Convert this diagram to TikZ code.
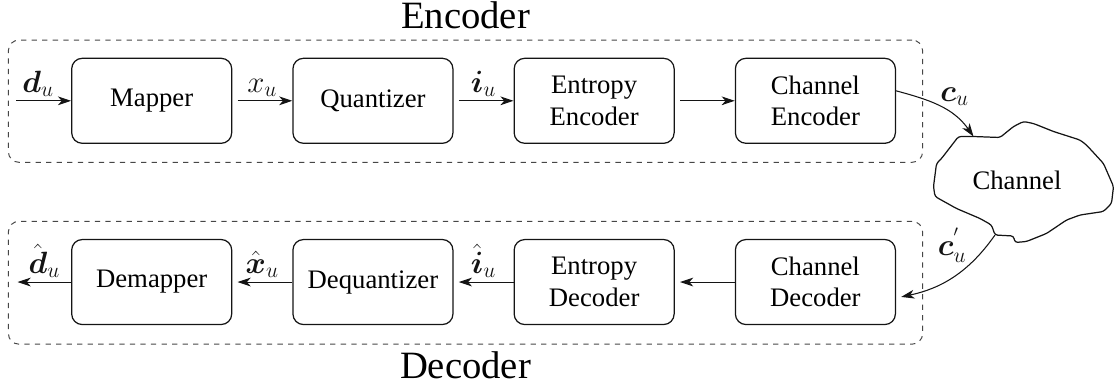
\RequirePackage{fix-cm}
\documentclass[tikz,border=0pt]{standalone}
\usepackage{amsmath}
\usepackage{fontspec}
\setmainfont{Liberation Serif}
\usetikzlibrary{arrows.meta, positioning, calc, fit}
\definecolor{mydark}{RGB}{20,20,20}
\definecolor{mygray}{RGB}{70,70,70}
\tikzset{
  block/.style={rectangle, draw=mydark, text width=2.8cm, align=center,
    minimum width=3.2cm, minimum height=1.7cm, rounded corners=6pt,
    font=\fontsize{15.2}{18}\selectfont, line width=0.7pt},
  frame/.style={rectangle, draw=mygray, dashed, rounded corners=6pt,
    inner sep=0pt, line width=0.55pt},
  framelabel/.style={font=\fontsize{22}{26}\selectfont, inner sep=0pt},
  sig/.style={font=\fontsize{17.5}{20}\selectfont, inner sep=2pt},
  arrow/.style={-{Stealth[length=7.5pt, width=5pt, inset=2.2pt]}, line width=0.6pt, color=mydark},
  cloudline/.style={draw=mydark, line width=0.7pt, rounded corners=1.5pt}
}

\begin{document}
\begin{tikzpicture}
  \useasboundingbox (0,0) rectangle (22.34,-7.70);
  % encoder chain
  \node[block] (map) at (3.034,-2.016) {Mapper};
  \node[block, right=1.2cm of map] (quant) {Quantizer};
  \node[block, right=1.2cm of quant] (entenc) {Entropy\\Encoder};
  \node[block, right=1.2cm of entenc] (chenc) {Channel\\Encoder};
  % decoder chain
  \node[block, below=1.9cm of map] (demap) {Demapper};
  \node[block, right=1.2cm of demap] (dequant) {Dequantizer};
  \node[block, right=1.2cm of dequant] (entdec) {Entropy\\Decoder};
  \node[block, right=1.2cm of entdec] (chdec) {Channel\\Decoder};

  % dashed frames
  \coordinate (enc-nw) at ($(map.north west)+(-1.254,0.352)$);
  \coordinate (enc-se) at ($(chenc.south east)+(0.532,-0.368)$);
  \node[frame, fit=(enc-nw)(enc-se)] (encframe) {};
  \node[framelabel, above=5.8pt of encframe] (enclabel) {Encoder};
  \coordinate (dec-nw) at ($(demap.north west)+(-1.254,0.352)$);
  \coordinate (dec-se) at ($(chdec.south east)+(0.532,-0.38)$);
  \node[frame, fit=(dec-nw)(dec-se)] (decframe) {};
  \node[framelabel, below=3.6pt of decframe] (declabel) {Decoder};

  % channel cloud
  \node[font=\fontsize{15.2}{18}\selectfont] (channel) at (20.34,-3.6) {Channel};
  \coordinate (chin) at (19.47,-2.73);
  \coordinate (chout) at (19.90,-4.70);
  \draw[cloudline] (19.17,-2.73) -- (chin) -- (20.00,-2.75) -- (20.27,-2.53)
    -- (20.47,-2.43) -- (20.67,-2.47) -- (21.07,-2.63) -- (21.60,-2.80)
    -- (21.73,-2.90) -- (22.07,-3.27) -- (22.27,-3.73) -- (22.23,-4.07)
    -- (22.07,-4.23) -- (21.60,-4.30) -- (21.33,-4.40) -- (20.93,-4.67)
    -- (20.53,-4.83) -- (20.30,-4.85) -- (20.27,-4.72) -- (chout)
    -- (19.83,-4.50) -- (19.60,-4.37) -- (19.13,-4.17) -- (18.70,-3.93)
    -- (18.67,-3.73) -- (18.73,-3.27) -- (18.83,-3.17) -- cycle;

  % signals
  \coordinate (din) at ($(map.west)+(-1.094,0)$);
  \coordinate (dout) at ($(demap.west)+(-1.07,0)$);
  \draw[arrow] (din) -- node[sig, above, pos=0.4] {$\boldsymbol{d}_u$} (map);
  \draw[arrow, shorten <=3pt] (map) -- node[sig, above] {$x_u$} (quant);
  \draw[arrow, shorten <=3pt] (quant) -- node[sig, above] {$\boldsymbol{i}_u$} (entenc);
  \draw[arrow, shorten <=3pt] (entenc) -- (chenc);
  \draw[arrow] ([yshift=0.2cm]chenc.east) to[out=-15, in=125]
    node[sig, above right, inner sep=0pt] {$\boldsymbol{c}_u$} (chin);
  \draw[arrow, shorten >=3pt] (chout) to[out=-125, in=12]
    node[sig, pos=0.32, above left, inner sep=1pt] {$\boldsymbol{c}_u^{'}$} ([yshift=-0.32cm]chdec.east);
  \draw[arrow, shorten >=3pt] (chdec) -- (entdec);
  \draw[arrow, shorten >=3pt] (entdec) -- node[sig, above] {$\hat{\boldsymbol{i}}_u$} (dequant);
  \draw[arrow, shorten >=3pt] (dequant) -- node[sig, above] {$\hat{\boldsymbol{x}}_u$} (demap);
  \draw[arrow] (demap) -- node[sig, above] {$\hat{\boldsymbol{d}}_u$} (dout);
\end{tikzpicture}
\end{document}
